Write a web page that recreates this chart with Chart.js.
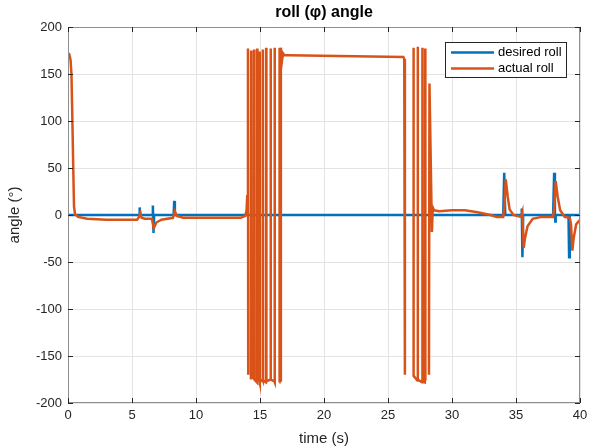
<!DOCTYPE html>
<html>
<head>
<meta charset="utf-8">
<script src="https://cdn.jsdelivr.net/npm/chart.js@4/dist/chart.umd.min.js"></script>
<style>
html,body{margin:0;padding:0;background:#fff;}
#wrap{width:597px;height:448px;}
</style>
</head>
<body>
<div id="wrap"><canvas id="c" width="597" height="448"></canvas></div>
<script>
// ---- data ----
const xTicks = [0, 5, 10, 15, 20, 25, 30, 35, 40];
const yTicks = [-200, -150, -100, -50, 0, 50, 100, 150, 200];

const desiredTime = [0, 5.55, 5.6, 5.65, 6.6, 6.63, 6.68, 6.73, 8.25, 8.3, 8.35,
  34.0, 34.08, 34.16, 35.42, 35.45, 35.5, 35.56, 37.9, 37.98, 38.04, 38.07, 38.1,
  39.1, 39.15, 39.2, 40];
const desiredRoll = [0, 0, 8, 0, 0, 10, -19, 0, 0, 15, 0,
  0, 45, 0, 0, 7, -45, 0, 0, 45, 0, -7, 0,
  0, -45, 0, 0];

// actual roll; null marks a break where the angle wraps around ±180
const actualTime = [0, 0.1, 0.2, 0.27, 0.33, 0.41, 0.47, 0.55, 0.78, 1.5, 3, 5.4, 5.55, 5.65, 5.75, 6.0,
  6.55, 6.7, 6.9, 7.3, 8.2, 8.35, 8.5, 9, 11, 13.5, 13.85, 13.95, 14.0, 14.06, 14.08,
  14.1,
  14.29, 14.31, 14.33,
  14.52, 14.54, 14.56,
  14.76, 14.78, 14.8,
  14.95, 14.97, 14.99,
  15.19, 15.21, 15.23,
  15.46, 15.48, 15.5,
  15.81, 15.83, 15.85,
  16.12, 16.14, 16.16,
  16.18,
  16.5, 16.53, 16.6, 16.63, 16.72, 16.8, 16.9, 17.2, 26.2, 26.27, 26.32,
  26.34,
  26.97, 26.99, 27.01,
  27.3, 27.32, 27.34,
  27.66, 27.68, 27.7,
  27.88, 27.9, 27.92,
  27.94,
  28.2, 28.24, 28.43, 28.5, 28.6,
  29, 30, 31, 32, 33, 33.5, 34.0, 34.1, 34.2, 34.35, 34.5, 34.8, 35.4, 35.5,
  35.6, 35.7, 35.9, 36.3, 37, 37.9, 38.0, 38.1, 38.25, 38.45, 38.8, 39.2, 39.3,
  39.4, 39.5, 39.7, 40];
const actualRoll = [172, 171, 165, 150, 110, 50, 9, 1, -2, -4, -5, -5, -2, 2, -3, -4,
  -4, -14, -8, -5, -3, 4, -1, -3, -3, -3, -1, 5, 20, 177, -170,
  null,
  -175, 175, -172,
  -174, 176, -175,
  -178, 177, -176,
  -176, 174, -178,
  -175, 176, -176,
  -178, 178, -177,
  -175, 177, -175,
  -177, 178, -178,
  null,
  -178, 178, -176, 178, 164, 172, 170, 170, 168, 166, -170,
  null,
  -172, 178, -171,
  -176, 179, -175,
  -178, 178, -177,
  -178, 177, -176,
  null,
  -170, 140, -18, 8, 5,
  4, 5, 5, 3, 0, -2, -2, 10, 38, 20, 6, 0, -2, 3,
  -35, -25, -12, -4, -2, -2, 10, 36, 20, 5, -2, -3, -10,
  -38, -25, -10, -5];

const seriesLabels = ['desired roll', 'actual roll'];
const seriesColors = ['#0072BD', '#D95319'];

// ---- helpers ----
const toPts = (xs, ys) => xs.map((x, i) => ({x: x, y: ys[i]}));
const FONT = "'Liberation Sans', Arial, Helvetica, sans-serif";
const TXT = '#262626';

const framePlugin = {
  id: 'frame',
  afterDatasetsDraw(chart) {
    const {ctx, chartArea: a, scales} = chart;
    ctx.save();
    ctx.strokeStyle = '#8f8f8f';
    ctx.lineWidth = 1;
    ctx.strokeRect(a.left + 0.5, a.top + 0.5, a.right - a.left - 1, a.bottom - a.top - 1);
    ctx.strokeStyle = TXT;
    ctx.beginPath();
    const L = 5;
    xTicks.forEach(v => {
      const px = Math.round(scales.x.getPixelForValue(v)) + 0.5;
      ctx.moveTo(px, a.bottom); ctx.lineTo(px, a.bottom - L);
      ctx.moveTo(px, a.top); ctx.lineTo(px, a.top + L);
    });
    yTicks.forEach(v => {
      const py = Math.round(scales.y.getPixelForValue(v)) + 0.5;
      ctx.moveTo(a.left, py); ctx.lineTo(a.left + L, py);
      ctx.moveTo(a.right, py); ctx.lineTo(a.right - L, py);
    });
    ctx.stroke();
    // legend
    const bx = 445.5, by = 42.5, bw = 121, bh = 35;
    ctx.fillStyle = '#fff';
    ctx.fillRect(bx, by, bw, bh);
    ctx.strokeStyle = TXT;
    ctx.lineWidth = 1;
    ctx.strokeRect(bx, by, bw, bh);
    ctx.font = '13px ' + FONT;
    ctx.textBaseline = 'middle';
    ctx.textAlign = 'left';
    chart.data.datasets.forEach((ds, i) => {
      const yy = 52.5 + i * 16;
      ctx.strokeStyle = ds.borderColor;
      ctx.lineWidth = 2.5;
      ctx.beginPath();
      ctx.moveTo(451, yy); ctx.lineTo(494, yy);
      ctx.stroke();
      ctx.fillStyle = '#000';
      ctx.fillText(ds.label, 498, yy);
    });
    ctx.restore();
  }
};

new Chart(document.getElementById('c'), {
  type: 'line',
  data: {
    datasets: [
      {label: seriesLabels[0], data: toPts(desiredTime, desiredRoll), borderColor: seriesColors[0],
       borderWidth: 2.5, pointRadius: 0, tension: 0, order: 1},
      {label: seriesLabels[1], data: toPts(actualTime, actualRoll), borderColor: seriesColors[1],
       borderWidth: 2.5, pointRadius: 0, tension: 0, order: 0, spanGaps: false}
    ]
  },
  options: {
    responsive: false,
    animation: false,
    layout: {padding: {left: 0, right: 17, top: 0, bottom: 0}},
    plugins: {
      legend: {display: false},
      tooltip: {enabled: false},
      title: {display: true, fullSize: false, text: 'roll (φ) angle', color: '#000',
        font: {family: FONT, size: 16, weight: 'bold'}, padding: {top: 3, bottom: 4.8}}
    },
    scales: {
      x: {
        type: 'linear', min: 0, max: 40,
        afterBuildTicks: s => { s.ticks = xTicks.map(v => ({value: v})); },
        afterFit: s => { s.height = 45; },
        grid: {color: '#e3e3e3', drawTicks: false},
        border: {display: false},
        ticks: {color: TXT, font: {family: FONT, size: 13}, padding: 5, maxRotation: 0},
        title: {display: true, text: 'time (s)', color: TXT, font: {family: FONT, size: 15}, padding: {top: 0, bottom: 0}}
      },
      y: {
        type: 'linear', min: -200, max: 200,
        afterBuildTicks: s => { s.ticks = yTicks.map(v => ({value: v})); },
        afterFit: s => { s.width = 68; },
        grid: {color: '#e3e3e3', drawTicks: false},
        border: {display: false},
        ticks: {color: TXT, font: {family: FONT, size: 13}, padding: 6},
        title: {display: true, text: 'angle (°)', color: TXT, font: {family: FONT, size: 15}, padding: {top: 6, bottom: 0}}
      }
    }
  },
  plugins: [framePlugin]
});
</script>
</body>
</html>
